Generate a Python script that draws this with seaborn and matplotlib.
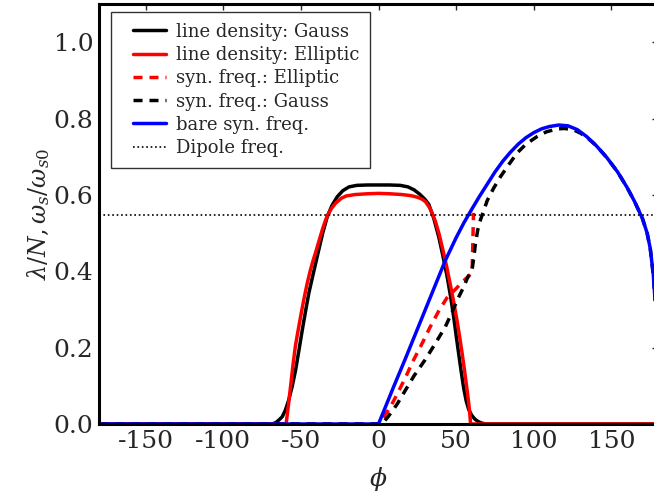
import matplotlib
matplotlib.use("Agg")
import numpy as np
import pandas as pd
import seaborn as sns
import matplotlib.pyplot as plt

# line density, Gauss bunch
phi_gauss = [-180, -68.5, -66, -64, -62, -60, -57.8, -55.5, -53.4, -51, -49.1, -47, -44.9, -42,
             -39.5, -36, -33, -30, -26.6, -23, -19, -14, -7, 0, 7, 14, 19, 23, 26.5, 30, 32.4,
             35.5, 38.8, 41.5, 44.2, 46.5, 48.5, 50, 51.7, 53.3, 54.9, 56.5, 58.1, 60, 62, 64,
             66, 69, 180]
dens_gauss = [0, 0, 0.004, 0.011, 0.019, 0.036, 0.063, 0.1, 0.141, 0.199, 0.246, 0.295, 0.342,
              0.394, 0.438, 0.499, 0.543, 0.572, 0.595, 0.611, 0.621, 0.625, 0.626, 0.626,
              0.626, 0.625, 0.621, 0.613, 0.602, 0.588, 0.575, 0.54, 0.49, 0.44, 0.386, 0.332,
              0.278, 0.232, 0.182, 0.136, 0.093, 0.06, 0.038, 0.023, 0.013, 0.007, 0.003, 0, 0]

# line density, elliptic bunch
phi_ellip = [-180, -59.5, -58, -56.5, -55, -53.5, -52, -50, -48, -46, -44, -42, -40.6, -38,
             -36, -34, -32, -30, -27.7, -24, -21, -15, -7, 0, 7, 15, 21, 25, 28, 30.3, 33, 35,
             36.7, 39, 42, 44, 46.4, 48.5, 50.7, 52.5, 53.9, 55.3, 56.7, 57.7, 58.5, 59.3, 180]
dens_ellip = [0, 0, 0.05, 0.103, 0.157, 0.205, 0.24, 0.285, 0.328, 0.367, 0.401, 0.43, 0.448,
              0.484, 0.511, 0.535, 0.553, 0.566, 0.578, 0.591, 0.597, 0.601, 0.603, 0.604,
              0.603, 0.601, 0.598, 0.594, 0.589, 0.582, 0.566, 0.548, 0.53, 0.498, 0.447, 0.41,
              0.362, 0.318, 0.268, 0.222, 0.184, 0.143, 0.1, 0.068, 0.04, 0, 0]

# synchrotron frequency, elliptic bunch
phi_syn_ellip = [-180, 0, 4, 7.7, 12, 17.4, 22, 28.1, 33, 38.8, 44, 49.6, 54, 59.2, 60.3,
                 60.6, 61.2]
syn_ellip = [0, 0, 0.022, 0.045, 0.078, 0.122, 0.163, 0.211, 0.252, 0.296, 0.33, 0.353, 0.372,
             0.392, 0.40, 0.45, 0.553]

# synchrotron frequency, Gauss bunch
phi_syn_gauss = [-180, 2, 6, 12, 17.4, 23, 30, 36, 43.1, 47, 51.7, 55, 57, 59, 60.3, 61.5,
                 62.5, 64, 65.7, 67, 70, 74.2, 78.6, 84, 89.3, 95, 102.2, 108, 115, 120, 125.8,
                 130, 135, 140, 147, 154, 160, 165, 170, 173, 175, 177, 178, 180]
syn_gauss = [0, 0, 0.018, 0.052, 0.089, 0.127, 0.168, 0.207, 0.255, 0.29, 0.333, 0.36, 0.38,
             0.396, 0.405, 0.44, 0.475, 0.51, 0.535, 0.55, 0.585, 0.618, 0.648, 0.68, 0.71,
             0.733, 0.753, 0.765, 0.773, 0.774, 0.77, 0.762, 0.748, 0.73, 0.698, 0.66, 0.62,
             0.582, 0.538, 0.5, 0.46, 0.39, 0.33, 0.15]

# bare synchrotron frequency
phi_bare = [-180, 0, 5, 10, 17, 23, 30, 36, 43, 50, 55, 60, 65, 70, 75, 80, 85, 90, 95, 100,
            105, 110, 116, 122, 128, 134, 140, 147, 154, 160, 165, 170, 173, 175, 177, 178, 180]
syn_bare = [0, 0, 0.05, 0.1, 0.168, 0.228, 0.298, 0.358, 0.428, 0.488, 0.527, 0.562, 0.596,
            0.628, 0.66, 0.688, 0.712, 0.733, 0.75, 0.763, 0.773, 0.779, 0.783, 0.781, 0.771,
            0.753, 0.73, 0.698, 0.66, 0.62, 0.582, 0.538, 0.5, 0.46, 0.39, 0.33, 0.15]

# dipole frequency
phi_dip = [-180, 180]
dipole = [0.547, 0.547]

dash = (0, (2.6, 2.0))
series = [
    ("line density: Gauss", phi_gauss, dens_gauss, "k", "-", 2.5),
    ("line density: Elliptic", phi_ellip, dens_ellip, "r", "-", 2.5),
    ("syn. freq.: Elliptic", phi_syn_ellip, syn_ellip, "r", dash, 2.5),
    ("syn. freq.: Gauss", phi_syn_gauss, syn_gauss, "k", dash, 2.5),
    ("bare syn. freq.", phi_bare, syn_bare, "b", "-", 2.5),
    ("Dipole freq.", phi_dip, dipole, "k", ":", 1.2),
]

sns.set_style("white")
plt.rcParams["font.family"] = ["DejaVu Serif"]
plt.rcParams["mathtext.fontset"] = "dejavuserif"
plt.rcParams["axes.unicode_minus"] = False

fig = plt.figure(figsize=(6.54, 4.95), dpi=100)
ax = fig.add_axes([99 / 654, 71 / 495, 559 / 654, 420 / 495])

for label, x, y, color, ls, lw in series:
    df = pd.DataFrame({"phi": x, "val": y})
    sns.lineplot(data=df, x="phi", y="val", ax=ax, color=color, linestyle=ls,
                 linewidth=lw, label=label, sort=False, estimator=None)

ax.set_xlim(-180, 180)
ax.set_ylim(0, 1.1)
ax.set_xticks([-150, -100, -50, 0, 50, 100, 150])
ax.set_yticks([0.0, 0.2, 0.4, 0.6, 0.8, 1.0])
ax.set_yticklabels(["0.0", "0.2", "0.4", "0.6", "0.8", "1.0"])
ax.tick_params(direction="in", length=4.5, width=1, labelsize=18, top=True, right=True, pad=4)
for sp in ax.spines.values():
    sp.set_linewidth(2.2)
    sp.set_color("k")

ax.set_xlabel(r"$\phi$", fontsize=18, labelpad=9)
ax.set_ylabel(r"$\lambda/N, \omega_s/\omega_{s0}$", fontsize=17, labelpad=1)

leg = ax.legend(loc="upper left", bbox_to_anchor=(0.021, 0.981), borderaxespad=0,
                fontsize=13, fancybox=False, frameon=True, labelspacing=0.29,
                borderpad=0.6, handlelength=2.45, handletextpad=0.55)
leg.get_frame().set_edgecolor("k")
leg.get_frame().set_linewidth(1.0)
# pull the legend line samples in from the left edge
for line in leg.get_lines():
    x0, x1 = line.get_xdata()[0], line.get_xdata()[-1]
    line.set_xdata([x0 + (x1 - x0) * 0.25, x1])
    line.set_ydata([line.get_ydata()[0]] * 2)

fig.savefig("out.png", dpi=100)
